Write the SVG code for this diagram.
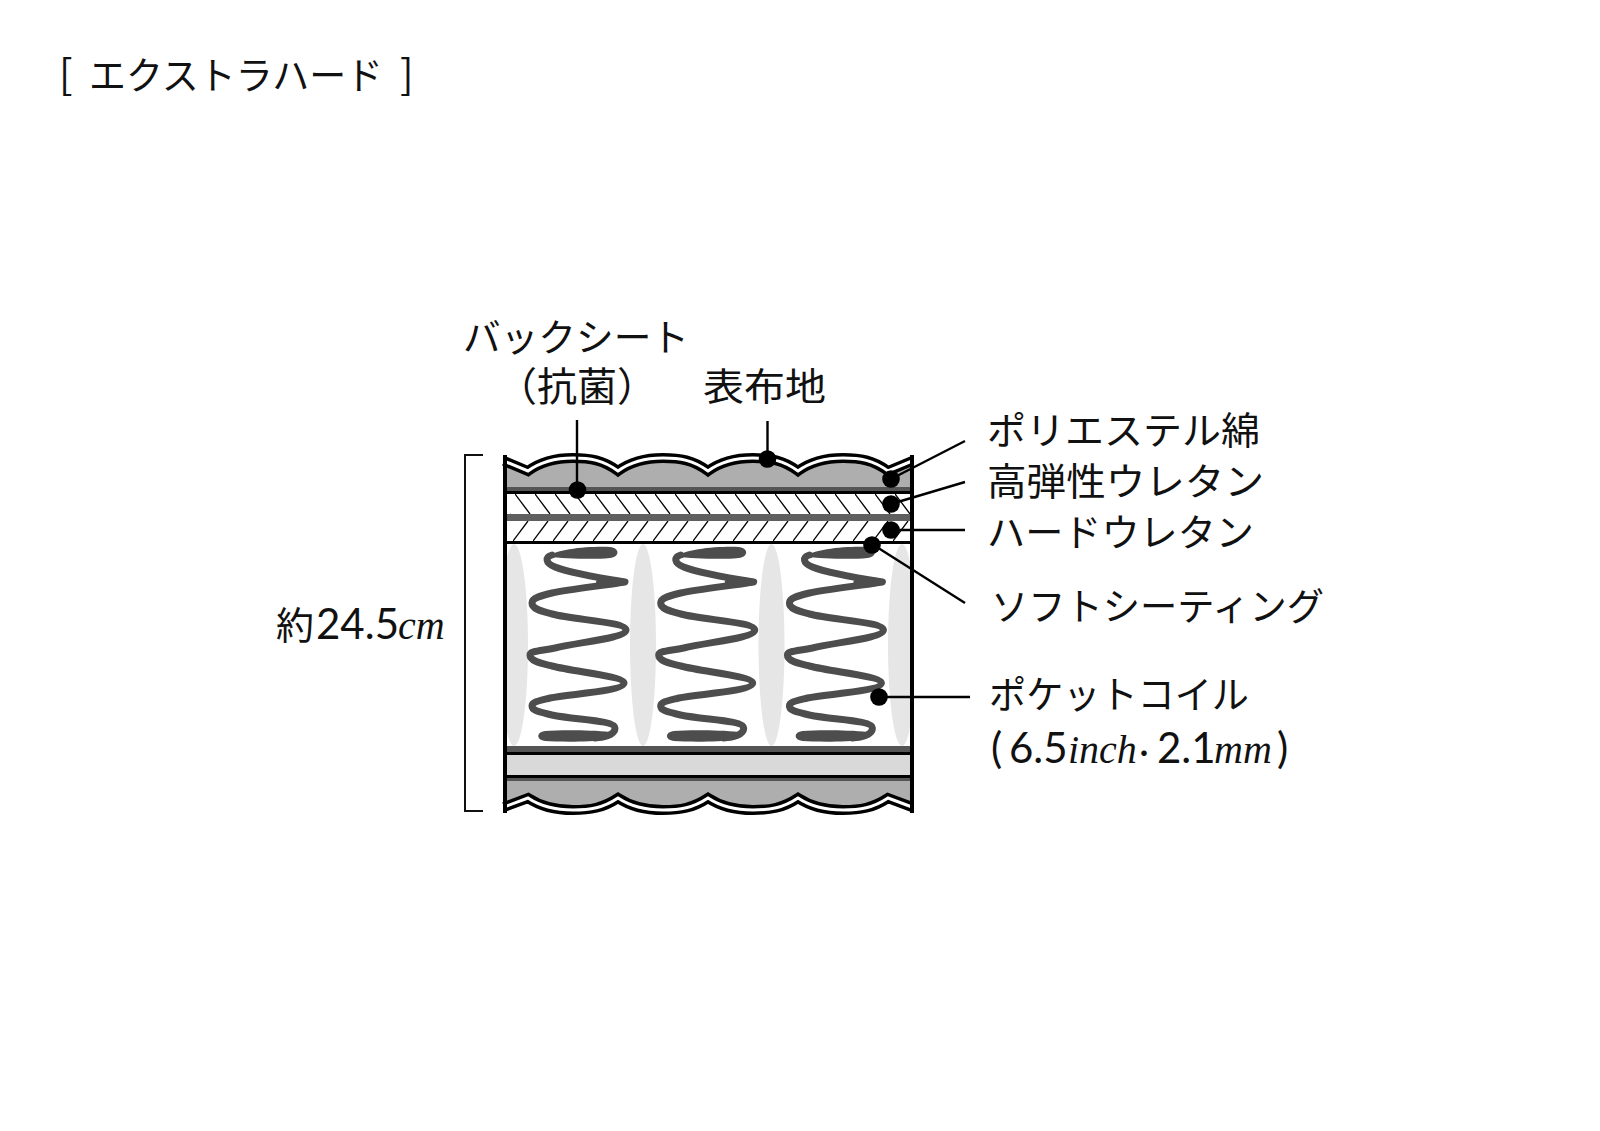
<svg xmlns="http://www.w3.org/2000/svg" xmlns:xlink="http://www.w3.org/1999/xlink" width="1600" height="1131" viewBox="0 0 1600 1131">
<style>
text{font-family:"Noto Sans CJK JP","Noto Sans",sans-serif;font-weight:400;font-size:38px;fill:#111}
.n{font-family:Lato,"Noto Sans",sans-serif;font-size:42px;font-weight:400}
.it{font-family:"Liberation Serif",serif;font-style:italic;font-size:40px;font-weight:400}
.ln{fill:none;stroke:#000;stroke-width:2.4}
.dot{fill:#000}
.coil{fill:none;stroke:#4d4d4d;stroke-width:7;stroke-linejoin:round;stroke-linecap:round}
.coilf{fill:#4d4d4d}
.pad{fill:#e6e6e6}
.wave1{fill:none;stroke:#000;stroke-width:10}
.wave2{fill:none;stroke:#fff;stroke-width:3}
</style>
<defs>
<pattern id="h1" patternUnits="userSpaceOnUse" x="515" y="494" width="20" height="20"><path d="M0 0L15 20" stroke="#000" stroke-width="1.300"/></pattern>
<pattern id="h2" patternUnits="userSpaceOnUse" x="513" y="521" width="20" height="20"><path d="M15 0L0 20" stroke="#000" stroke-width="1.300"/></pattern>
<clipPath id="c"><rect x="504" y="544" width="408" height="202"/></clipPath>
<path id="wt" d="M504 461L528 471C543 460 560 458 573 458C590 458 603 460 618 471C633 460 650 458 663 458C680 458 693 460 708 471C723 460 740 458 753 458C770 458 783 460 798 471C813 460 830 458 843 458C860 458 873 460 888 471L912 461"/>
<path id="wb" d="M504 807L528 798C543 808 560 810 573 810C590 810 603 808 618 798C633 808 650 810 663 810C680 810 693 808 708 798C723 808 740 810 753 810C770 810 783 808 798 798C813 808 830 810 843 810C860 810 873 808 888 798L912 807"/>
<g id="coil">
<path class="coil" d="M552 555C545 557 545 563 555 567C570 573 600 578 625 582C600 586 570 589 552 593C540 596 532 598 532 603C532 609 541 611 552 614C575 620 626 622 626 630C626 638 580 642 555 648C540 651 530 651 530 655C530 661 540 663 552 666C575 672 624 676 624 683C624 691 570 694 550 698C538 701 532 702 532 706C532 711 540 712 552 715C575 720 615 720 615 728C615 734 607 737 595 738"/>
<path class="coilf" d="M547 557C555 549 590 546 610 547C620 548 620 557 610 558C590 560 565 558 547 557Z"/>
<path class="coilf" d="M545 731C560 730 590 730 610 732L605 740C590 742 560 742 545 741C536 740 536 732 545 731Z"/>
<ellipse class="coilf" cx="612" cy="582" rx="16" ry="4.500"/>
</g>
</defs>
<rect width="1600" height="1131" fill="#fff"/>
<g id="title"><text y="89"><tspan x="59" font-size="40">[</tspan><tspan x="89" textLength="294" lengthAdjust="spacingAndGlyphs">エクストラハード</tspan><tspan x="400" font-size="40">]</tspan></text></g>
<g id="mattress">
<path d="M504 461L528 471C543 460 560 458 573 458C590 458 603 460 618 471C633 460 650 458 663 458C680 458 693 460 708 471C723 460 740 458 753 458C770 458 783 460 798 471C813 460 830 458 843 458C860 458 873 460 888 471L912 461V487H504Z" fill="#aeaeae"/>
<rect x="504" y="487" width="408" height="4" fill="#555"/>
<rect x="504" y="491" width="408" height="3" fill="#000"/>
<rect x="510" y="494" width="400" height="20" fill="#fff"/>
<rect x="510" y="494" width="400" height="20" fill="url(#h1)"/>
<rect x="504" y="514" width="408" height="7" fill="#5f5f5f"/>
<rect x="510" y="521" width="400" height="20" fill="url(#h2)"/>
<rect x="504" y="541" width="408" height="3" fill="#000"/>
<g clip-path="url(#c)">
<ellipse class="pad" cx="514" cy="645" rx="14" ry="101"/>
<ellipse class="pad" cx="643" cy="645" rx="13" ry="101"/>
<ellipse class="pad" cx="771.500" cy="645" rx="13" ry="101"/>
<ellipse class="pad" cx="902" cy="645" rx="14" ry="101"/>
</g>
<use href="#coil"/>
<use href="#coil" x="128.700"/>
<use href="#coil" x="257.400"/>
<rect x="504" y="746" width="408" height="6" fill="#555"/>
<rect x="504" y="752" width="408" height="3" fill="#000"/>
<rect x="504" y="755" width="408" height="20" fill="#d9d9d9"/>
<rect x="504" y="775" width="408" height="3" fill="#000"/>
<rect x="504" y="778" width="408" height="3" fill="#555"/>
<path d="M504 781H912V807L888 798C873 808 860 810 843 810C830 810 813 808 798 798C783 808 770 810 753 810C740 810 723 808 708 798C693 808 680 810 663 810C650 810 633 808 618 798C603 808 590 810 573 810C560 810 543 808 528 798L504 807Z" fill="#aeaeae"/>
<use href="#wt" class="wave1"/>
<use href="#wt" class="wave2"/>
<use href="#wb" class="wave1"/>
<use href="#wb" class="wave2"/>
<path d="M505 455V813M912 455V813" fill="none" stroke="#000" stroke-width="4"/>
</g>
<g id="connectors">
<path class="ln" d="M577 489V420M767.500 458V421M891 479L965 441M891 504L965 482M891 530H965M872 544L965 603M879 697H970"/>
<path d="M483 455H465V811H483" fill="none" stroke="#111" stroke-width="2"/>
</g>
<g id="dots">
<circle class="dot" cx="577.500" cy="490" r="8.800"/>
<circle class="dot" cx="767.500" cy="459" r="8.800"/>
<circle class="dot" cx="891" cy="479" r="8.800"/>
<circle class="dot" cx="891" cy="504" r="8.800"/>
<circle class="dot" cx="891" cy="530" r="8.800"/>
<circle class="dot" cx="872" cy="545" r="8.800"/>
<circle class="dot" cx="879" cy="697" r="8.800"/>
</g>
<g id="labels">
<text x="463" y="351" textLength="226" lengthAdjust="spacingAndGlyphs">バックシート</text>
<text x="497" y="401" style="font-size:40px">（抗菌）</text>
<text x="703" y="400" textLength="123" lengthAdjust="spacingAndGlyphs">表布地</text>
<text x="987" y="444" textLength="273" lengthAdjust="spacingAndGlyphs">ポリエステル綿</text>
<text x="987" y="495" textLength="277" lengthAdjust="spacingAndGlyphs">高弾性ウレタン</text>
<text x="987" y="546" textLength="267" lengthAdjust="spacingAndGlyphs">ハードウレタン</text>
<text x="991" y="620" textLength="333" lengthAdjust="spacingAndGlyphs">ソフトシーティング</text>
<text x="989" y="708" textLength="260" lengthAdjust="spacingAndGlyphs">ポケットコイル</text>
<text y="763"><tspan x="991" class="n">(</tspan><tspan x="1009" class="n">6.5</tspan><tspan x="1068" class="it">inch</tspan><tspan x="1131" style="font-size:26px">・</tspan><tspan x="1157" class="n">2.1</tspan><tspan x="1214" class="it">mm</tspan><tspan x="1277" class="n">)</tspan></text>
<text y="639"><tspan x="276">約</tspan><tspan x="316" class="n">24.5</tspan><tspan x="398" class="it">cm</tspan></text>
</g>
</svg>
